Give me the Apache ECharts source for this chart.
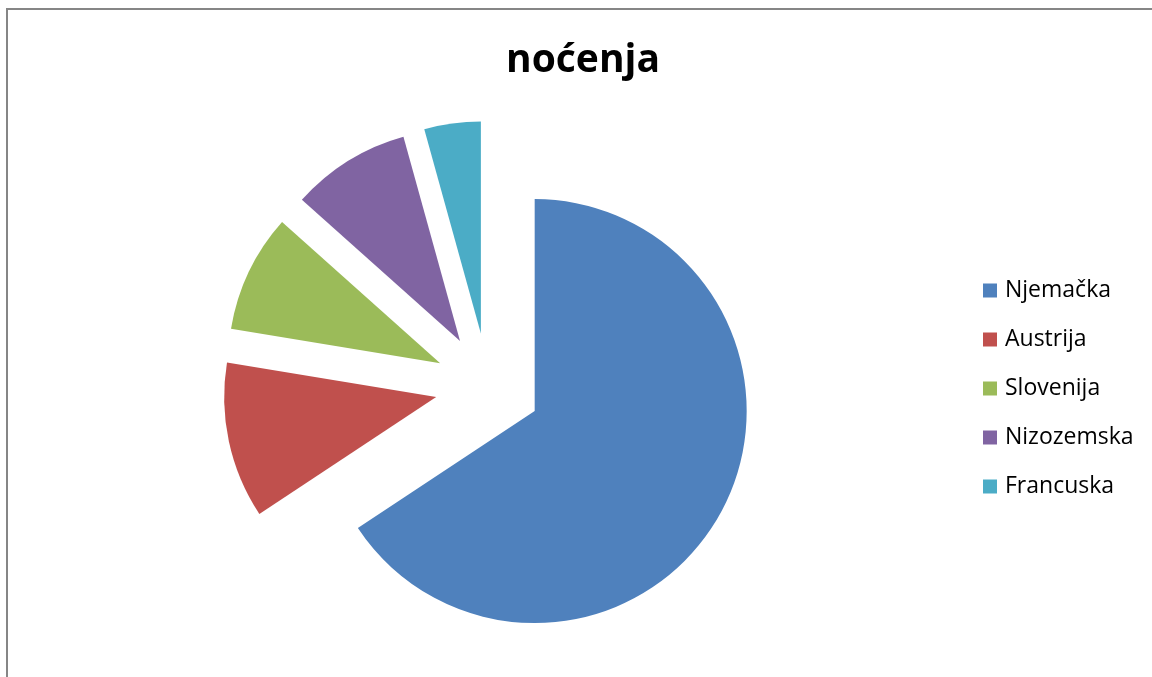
<!DOCTYPE html>
<html>
<head>
<meta charset="utf-8">
<script src="https://cdn.jsdelivr.net/npm/echarts@6/dist/echarts.min.js"></script>
<style>
html,body{margin:0;padding:0;background:#fff;}
#chart{width:1152px;height:677px;}
</style>
</head>
<body>
<div id="chart"></div>
<script>
var titleText = 'noćenja';
var categories = ['Njemačka', 'Austrija', 'Slovenija', 'Nizozemska', 'Francuska'];
var values = [65.7, 11.9, 9.0, 9.1, 4.3];
var colors = ['#4F81BD', '#C0504D', '#9BBB59', '#8064A2', '#4BACC6'];

var chart = echarts.init(document.getElementById('chart'), null, {renderer: 'canvas'});
var data = categories.map(function (c, i) {
  return { name: c, value: values[i], selected: true, itemStyle: { color: colors[i] } };
});
chart.setOption({
  animation: false,
  backgroundColor: '#ffffff',
  title: {
    text: titleText,
    left: 578,
    textAlign: 'center',
    top: 36,
    textStyle: { fontFamily: 'Open Sans', fontWeight: 'bold', fontSize: 39, color: '#000' }
  },
  legend: {
    orient: 'vertical',
    left: 983,
    top: 279,
    padding: 0,
    itemWidth: 14,
    itemHeight: 14,
    itemGap: 26,
    icon: 'rect',
    selectedMode: false,
    data: categories,
    textStyle: { fontFamily: 'Open Sans', fontSize: 23, lineHeight: 22, color: '#000', padding: [0, 0, 0, 3] }
  },
  graphic: [{
    type: 'rect',
    shape: { x: 7, y: 9, width: 1300, height: 1000 },
    style: { fill: 'none', stroke: '#868686', lineWidth: 2 },
    silent: true,
    z: 100
  }],
  series: [{
    type: 'pie',
    center: [488, 386],
    radius: 212,
    startAngle: 90,
    clockwise: true,
    selectedMode: 'multiple',
    selectedOffset: 53,
    label: { show: false },
    labelLine: { show: false },
    emphasis: { disabled: true },
    itemStyle: { borderWidth: 0 },
    data: data
  }]
});
</script>
</body>
</html>
